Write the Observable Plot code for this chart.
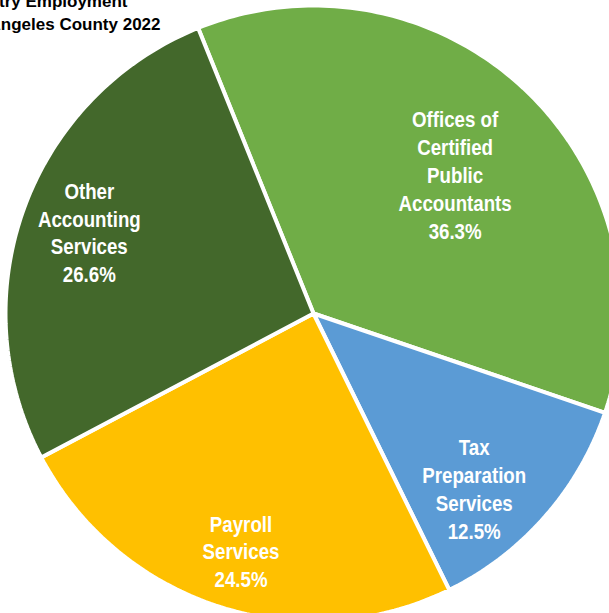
<!DOCTYPE html>
<html>
<head>
<meta charset="utf-8">
<script src="https://cdn.jsdelivr.net/npm/d3@7"></script>
<script src="https://cdn.jsdelivr.net/npm/@observablehq/plot@0.6"></script>
<style>
  html, body { margin: 0; padding: 0; background: #fff; }
  #chart svg { display: block; overflow: hidden; }
</style>
</head>
<body>
<div id="chart"></div>
<script>
// ---- data ----
const categories = ["Offices of Certified Public Accountants", "Tax Preparation Services", "Payroll Services", "Other Accounting Services"];
const labelLines = [["Offices of", "Certified", "Public", "Accountants"], ["Tax", "Preparation", "Services"], ["Payroll", "Services"], ["Other", "Accounting", "Services"]];
const shares = [36.3, 12.5, 24.5, 26.6];
const colors = ["#70AD47", "#5B9BD5", "#FFC000", "#43682B"];
const titleLines = ["Accounting Industry Employment", "Los Angeles County 2022"];

// ---- layout ----
const W = 609, H = 613;
const cx = 313, cy = 313;      // pie centre in pixels
const R = 308;                 // outer radius (stroke eats 2px)
const startDeg = -22;          // first slice begins here (clockwise from 12 o'clock)
const labelRadius = [0.65, 0.775, 0.81, 0.78];
const labelNudgeDeg = [2, 6, -1, 0];
const condense = 0.85;         // horizontal squeeze of the label font

const pie = d3.pie().sort(null).value(d => d.share)
  .startAngle(startDeg * Math.PI / 180)
  .endAngle(startDeg * Math.PI / 180 + 2 * Math.PI);

const rows = categories.map((name, i) => ({name, share: shares[i], color: colors[i], lines: labelLines[i]}));
const arcs = pie(rows);

// slice outlines computed from the pie angles
const slicePaths = arcs.map(a => {
  const pts = [{x: 0, y: 0}];
  const n = Math.max(8, Math.ceil((a.endAngle - a.startAngle) * 180 / Math.PI));
  for (let k = 0; k <= n; k++) {
    const t = a.startAngle + (a.endAngle - a.startAngle) * k / n;
    pts.push({x: R * Math.sin(t), y: R * Math.cos(t)});
  }
  pts.push({x: 0, y: 0});
  return {data: a.data, pts};
});

const labels = arcs.map((a, i) => {
  const t = (a.startAngle + a.endAngle) / 2 + labelNudgeDeg[i] * Math.PI / 180;
  const r = 306 * labelRadius[i];
  return {x: r * Math.sin(t), y: r * Math.cos(t),
          text: a.data.lines.join("\n") + "\n" + a.data.share.toFixed(1) + "%"};
});

const sans = "'Liberation Sans', Arial, sans-serif";

const chart = Plot.plot({
  width: W,
  height: H,
  margin: 0,
  x: {domain: [-cx, W - cx], axis: null},
  y: {domain: [cy - H, cy], axis: null},
  marks: [
    ...slicePaths.map(s => Plot.line(s.pts, {
      x: "x", y: "y", fill: s.data.color, stroke: "white", strokeWidth: 4, strokeLinejoin: "miter"
    })),
    Plot.text(labels, {
      x: "x", y: "y", text: "text", fill: "white", fontSize: 22, fontWeight: "bold",
      fontFamily: sans, lineHeight: 1.27, lineAnchor: "middle", textAnchor: "middle"
    }),
    Plot.text([titleLines[0]], {
      frameAnchor: "top-left", text: d => d, textAnchor: "end", lineAnchor: "bottom",
      dx: 127, dy: 6, fontSize: 17, fontWeight: "bold", fill: "black", fontFamily: sans
    }),
    Plot.text([titleLines[1]], {
      frameAnchor: "top-left", text: d => d, textAnchor: "end", lineAnchor: "bottom",
      dx: 160, dy: 29, fontSize: 17, fontWeight: "bold", fill: "black", fontFamily: sans
    })
  ]
});

// squeeze slice-label text horizontally (narrow bold face) around its anchor
d3.select(chart).selectAll("text").each(function () {
  if (!this.textContent.includes("%")) return;
  const tr = this.getAttribute("transform") || "";
  this.setAttribute("transform", (tr + ` scale(${condense},1)`).trim());
});

document.getElementById("chart").appendChild(chart);
</script>
</body>
</html>
